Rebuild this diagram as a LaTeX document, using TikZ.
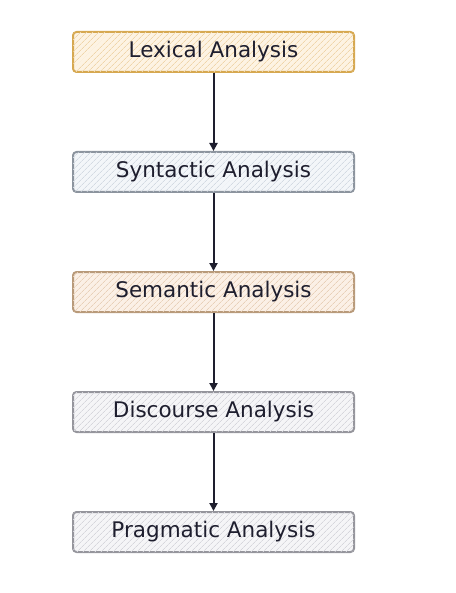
\documentclass[tikz,border=0pt]{standalone}
\usepackage{fontspec}
\setmainfont{DejaVu Sans}
\usetikzlibrary{patterns.meta,arrows.meta}
\definecolor{ink}{HTML}{1E1E2E}
\definecolor{goldline}{HTML}{D6A850}
\definecolor{goldfill}{HTML}{FDF3E3}
\definecolor{goldhatch}{HTML}{EFD5AA}
\definecolor{blueline}{HTML}{8C949E}
\definecolor{bluefill}{HTML}{F3F6F9}
\definecolor{bluehatch}{HTML}{D3DAE2}
\definecolor{tanline}{HTML}{B89A7A}
\definecolor{tanfill}{HTML}{FBF0E6}
\definecolor{tanhatch}{HTML}{E8D0B8}
\definecolor{grayline}{HTML}{95959C}
\definecolor{grayfill}{HTML}{F5F5F7}
\definecolor{grayhatch}{HTML}{D6D6DC}
\tikzset{
  stage/.style n args={3}{draw=#1, line width=2pt, rounded corners=3.5pt,
    minimum width=281pt, minimum height=40pt, inner sep=0pt,
    text=ink, font=\fontsize{21.5}{24}\selectfont,
    preaction={fill=#2},
    postaction={pattern={Lines[angle=45,distance=4pt,line width=0.8pt]}, pattern color=#3}},
  flow/.style={draw=ink, line width=2pt, -{Triangle[length=8pt,width=8pt]}}
}
\begin{document}
\begin{tikzpicture}[x=1pt,y=-1pt]
  \useasboundingbox (0,0) rectangle (455,593);
  \node[stage={goldline}{goldfill}{goldhatch}] (lex) at (213.5,52) {Lexical Analysis};
  \node[stage={blueline}{bluefill}{bluehatch}] (syn) at (213.5,172) {Syntactic Analysis};
  \node[stage={tanline}{tanfill}{tanhatch}] (sem) at (213.5,292) {Semantic Analysis};
  \node[stage={grayline}{grayfill}{grayhatch}] (dis) at (213.5,412) {Discourse Analysis};
  \node[stage={grayline}{grayfill}{grayhatch}] (pra) at (213.5,532) {Pragmatic Analysis};
  \draw[flow] (lex) -- (syn);
  \draw[flow] (syn) -- (sem);
  \draw[flow] (sem) -- (dis);
  \draw[flow] (dis) -- (pra);
\end{tikzpicture}
\end{document}
